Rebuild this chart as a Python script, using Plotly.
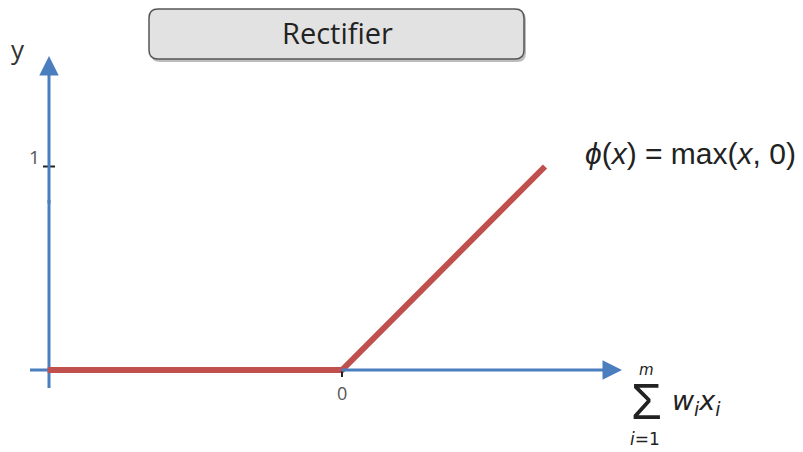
import plotly.graph_objects as go

# ---- data ----
relu_x = [-1.45, 0.0, 1.0]
relu_y = [0.0, 0.0, 1.0]
x_tick_vals = [0]
x_tick_text = ["0"]
y_tick_vals = [1]
y_tick_text = ["1"]
title_text = "Rectifier"
formula_text = "<i>ϕ</i>(<i>x</i>) = max(<i>x</i>, 0)"

PAGE_W, PAGE_H = 803, 452
OFF = 8                       # browser body margin
W, H = PAGE_W - OFF, PAGE_H - OFF
PX = 203.0      # pixels per x unit
PY = 203.5      # pixels per y unit
X0, Y0 = 342, 370   # page-pixel position of origin

def dx(px):
    return (px - X0) / PX

def dy(py):
    return (Y0 - py) / PY

def pxp(px):
    return (px - OFF) / W

def pyp(py):
    return 1 - (py - OFF) / H

fig = go.Figure()

BLUE = "#4a7ebf"
RED = "#c0504d"

shapes = []
annotations = []

# axis bodies (below the data line)
shapes.append(dict(type="line", xref="x", yref="y", x0=dx(30), x1=dx(345), y0=0, y1=0,
                   line=dict(color=BLUE, width=3), layer="below"))
shapes.append(dict(type="line", xref="x", yref="y", x0=dx(49), x1=dx(49), y0=dy(388), y1=dy(200),
                   line=dict(color=BLUE, width=3), layer="below"))
# axis arrow parts
annotations.append(dict(x=dx(49), y=dy(56), ax=dx(49), ay=dy(205), xref="x", yref="y",
                        axref="x", ayref="y", showarrow=True, arrowhead=2, arrowsize=1.3,
                        arrowwidth=3, arrowcolor=BLUE, text=""))
annotations.append(dict(x=dx(622), y=0, ax=dx(340), ay=0, xref="x", yref="y",
                        axref="x", ayref="y", showarrow=True, arrowhead=2, arrowsize=1.3,
                        arrowwidth=3, arrowcolor=BLUE, text=""))

fig.add_trace(go.Scatter(x=relu_x, y=relu_y, mode="lines",
                         line=dict(color=RED, width=6), hoverinfo="skip",
                         showlegend=False))

# tick marks
for v in y_tick_vals:
    shapes.append(dict(type="line", xref="x", yref="y", x0=dx(43), x1=dx(55), y0=v, y1=v,
                       line=dict(color="#222222", width=2)))
for v in x_tick_vals:
    shapes.append(dict(type="line", xref="x", yref="y", x0=v, x1=v, y0=dy(371), y1=dy(377),
                       line=dict(color="#222222", width=2)))

for v, t in zip(y_tick_vals, y_tick_text):
    annotations.append(dict(x=dx(34), y=v, yshift=10, xref="x", yref="y", text=t, showarrow=False,
                            xanchor="center", yanchor="middle",
                            font=dict(size=19, color="#555555", family="Open Sans")))
for v, t in zip(x_tick_vals, x_tick_text):
    annotations.append(dict(x=v, y=0, yshift=-23, xref="x", yref="y", text=t, showarrow=False,
                            xanchor="center", yanchor="middle",
                            font=dict(size=18, color="#555555", family="Open Sans")))

# y label
annotations.append(dict(x=dx(18), y=dy(49), xref="x", yref="y", text="y", showarrow=False,
                        xanchor="center", yanchor="middle",
                        font=dict(size=26, color="#333333", family="Open Sans")))

# title box (rounded rectangle, page pixel -> paper)
def rrect(x0, y0, x1, y1, r):
    return (f"M {pxp(x0+r)},{pyp(y0)} L {pxp(x1-r)},{pyp(y0)} Q {pxp(x1)},{pyp(y0)} {pxp(x1)},{pyp(y0+r)} "
            f"L {pxp(x1)},{pyp(y1-r)} Q {pxp(x1)},{pyp(y1)} {pxp(x1-r)},{pyp(y1)} "
            f"L {pxp(x0+r)},{pyp(y1)} Q {pxp(x0)},{pyp(y1)} {pxp(x0)},{pyp(y1-r)} "
            f"L {pxp(x0)},{pyp(y0+r)} Q {pxp(x0)},{pyp(y0)} {pxp(x0+r)},{pyp(y0)} Z")

shapes.append(dict(type="path", xref="paper", yref="paper", path=rrect(151, 11, 526, 62, 9),
                   fillcolor="#bdbdbd", line=dict(width=0), layer="above"))
shapes.append(dict(type="path", xref="paper", yref="paper", path=rrect(149, 9, 524, 59, 9),
                   fillcolor="#e2e2e2", line=dict(color="#555555", width=1.5), layer="above"))

annotations.append(dict(x=pxp(337), y=pyp(33), xref="paper", yref="paper", text=title_text,
                        xanchor="center", yanchor="middle",
                        showarrow=False, font=dict(size=29, color="#222222", family="Open Sans")))

# formula
annotations.append(dict(x=dx(690), y=dy(153), xref="x", yref="y", text=formula_text,
                        xanchor="center", yanchor="middle",
                        showarrow=False, font=dict(size=30, color="#222222", family="Liberation Sans")))

# summation label
annotations.append(dict(x=dx(646), y=dy(370), xref="x", yref="y", text="<i>m</i>",
                        xanchor="center", yanchor="middle",
                        showarrow=False, font=dict(size=15, color="#222222", family="DejaVu Sans")))
annotations.append(dict(x=dx(646), y=dy(402), xref="x", yref="y", text="Σ",
                        xanchor="center", yanchor="middle",
                        showarrow=False, font=dict(size=50, color="#222222", family="Liberation Sans")))
annotations.append(dict(x=dx(645), y=dy(439), xref="x", yref="y", text="<i>i</i>=1",
                        xanchor="center", yanchor="middle",
                        showarrow=False, font=dict(size=17, color="#222222", family="DejaVu Sans")))
annotations.append(dict(x=dx(696), y=dy(402), xref="x", yref="y",
                        text="<i>w<sub>i</sub>x<sub>i</sub></i>",
                        xanchor="center", yanchor="middle",
                        showarrow=False, font=dict(size=27, color="#222222", family="DejaVu Sans")))

fig.update_layout(
    width=W, height=H,
    margin=dict(l=0, r=0, t=0, b=0),
    paper_bgcolor="white", plot_bgcolor="white",
    xaxis=dict(range=[dx(OFF), dx(PAGE_W)], visible=False, fixedrange=True),
    yaxis=dict(range=[dy(PAGE_H), dy(OFF)], visible=False, fixedrange=True),
    shapes=shapes, annotations=annotations, showlegend=False,
)

fig.write_html("out.html")
